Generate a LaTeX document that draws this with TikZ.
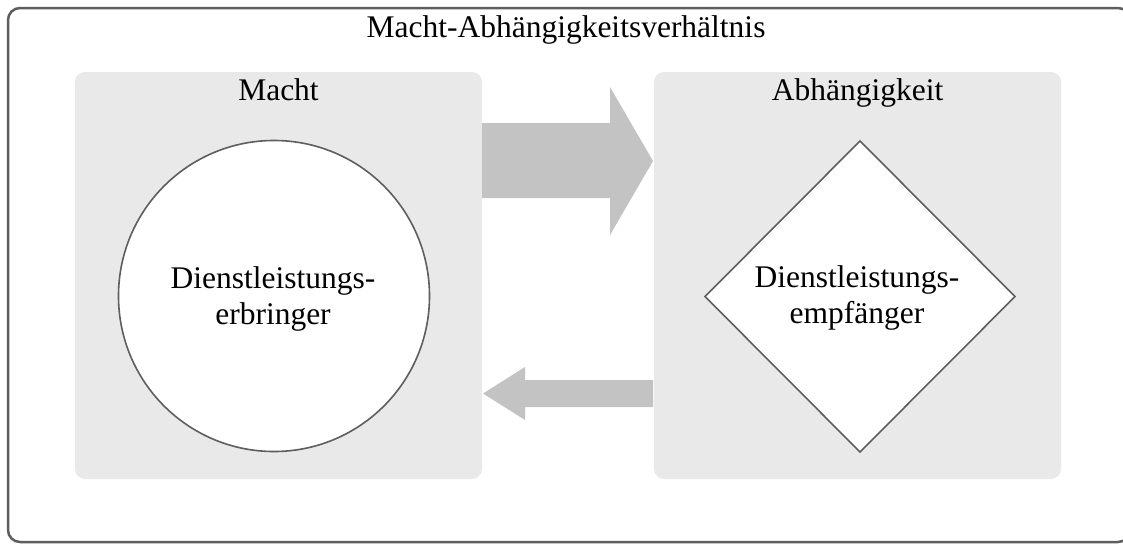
\documentclass[tikz,border=0pt]{standalone}
\usepackage{fontspec}
\setmainfont{Liberation Serif}
\usetikzlibrary{shapes.geometric,calc}
\definecolor{framegray}{HTML}{5E5E5E}
\definecolor{panelgray}{HTML}{E9E9E9}
\definecolor{arrowgray}{HTML}{C3C3C3}
\begin{document}
\begin{tikzpicture}[x=1pt,y=-1pt,
  every node/.style={font=\fontsize{31.5}{36}\selectfont, inner sep=0pt},
  outerframe/.style={draw=framegray, line width=2.5pt, rounded corners=12pt},
  panel/.style={fill=panelgray, rounded corners=10pt},
  blockarrow/.style={fill=arrowgray, draw=none},
  actorline/.style={draw=framegray, line width=1.6pt, fill=white}
]
\useasboundingbox (0,0) rectangle (1123,544);

% outer frame (its right side runs past the page edge)
\draw[outerframe] (8,8) rectangle (1130,542);
\node[anchor=base] (title) at (566,37) {Macht-Abhängigkeitsverhältnis};

% the two panels
\fill[panel] (75,72) rectangle (482,479);
\fill[panel] (654,72) rectangle (1061,479);
\node[anchor=base] (machtlabel) at (278.5,100) {Macht};
\node[anchor=base] (abhlabel) at (857.5,100) {Abhängigkeit};

% service provider (circle) and recipient (diamond)
\draw[actorline] (274,296) circle (155.5);
\node[align=center, anchor=base] (erbringer) at (273,324) {Dienstleistungs-\\erbringer};
\draw[actorline]
  (860,141) -- (1015,296.5) -- (860,452) -- (705,296.5) -- cycle;
\node[align=center, anchor=base] (empfaenger) at (857,323) {Dienstleistungs-\\empfänger};

% block arrows between the panels
\fill[blockarrow] (482,123) -- (610,123) -- (610,87) -- (653,161)
  -- (610,235) -- (610,198) -- (482,198) -- cycle;
\fill[blockarrow] (653,380) -- (525,380) -- (525,367) -- (483,393.5)
  -- (525,420) -- (525,407) -- (653,407) -- cycle;
\end{tikzpicture}
\end{document}
